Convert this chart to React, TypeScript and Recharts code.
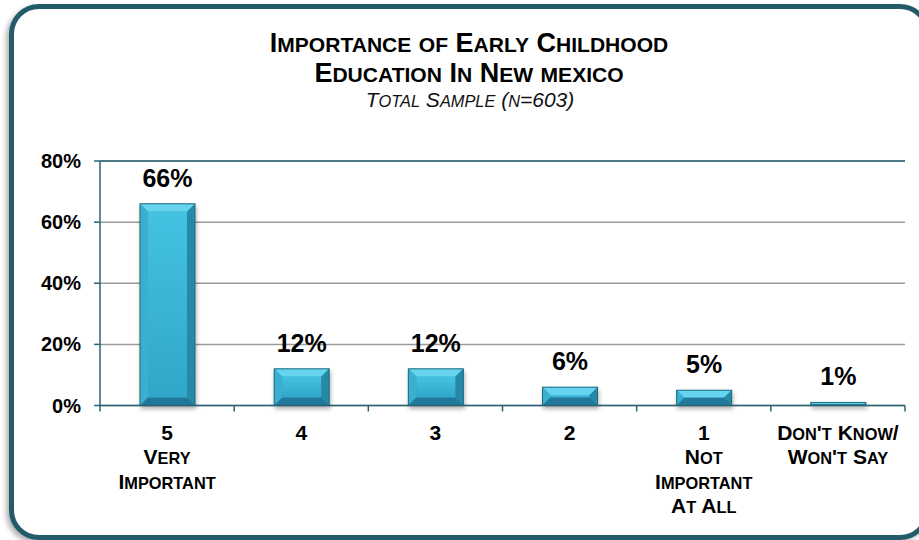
import React from 'react';
import { BarChart, Bar, XAxis, YAxis, CartesianGrid, ReferenceLine, LabelList } from 'recharts';

// chart data
const categories = ['5', '4', '3', '2', '1', "Don't Know/ Won't Say"];
const categoryLines = [
  ['5', 'Very', 'Important'],
  ['4'],
  ['3'],
  ['2'],
  ['1', 'Not', 'Important', 'At All'],
  ["Don't Know/", "Won't Say"],
];
const values = [66, 12, 12, 6, 5, 1];
const yTicks = [0, 20, 40, 60, 80];
const titleLines = ['Importance of Early Childhood', 'Education In New mexico'];
const subtitle = 'Total Sample (n=603)';

const data = categories.map((name, i) => ({ name, value: values[i] }));

const W = 919;
const H = 540;
const PLOT_LEFT = 100;
const PLOT_RIGHT = 905;
const PLOT_TOP = 161;
const PLOT_BOTTOM = 405.5;
const FONT = '"Liberation Sans", Arial, Helvetica, sans-serif';
const TEAL = '#2a6375';
const FRAME = '#235b6b';
const SC = 0.78; // small caps ratio

// split text into runs of big / small-cap letters
function capsRuns(text: string) {
  const runs: { t: string; small: boolean }[] = [];
  for (const ch of text) {
    const small = ch >= 'a' && ch <= 'z';
    const t = small ? ch.toUpperCase() : ch;
    const last = runs[runs.length - 1];
    if (last && last.small === small) last.t += t;
    else runs.push({ t, small });
  }
  return runs;
}

function CapsTspans({ text, size }: { text: string; size: number }) {
  return (
    <>
      {capsRuns(text).map((r, i) => (
        <tspan key={i} fontSize={r.small ? size * SC : size}>
          {r.t}
        </tspan>
      ))}
    </>
  );
}

const halfBand = (PLOT_RIGHT - PLOT_LEFT) / categories.length / 2;

const CategoryTick = (props: any) => {
  const { x, y, payload } = props;
  const idx = categories.indexOf(payload.value);
  const lines = categoryLines[idx] || [];
  return (
    <g>
      <line x1={x - halfBand} x2={x - halfBand} y1={y} y2={y + 6} stroke={TEAL} strokeWidth={1.5} />
      {idx === categories.length - 1 && (
        <line x1={x + halfBand} x2={x + halfBand} y1={y} y2={y + 6} stroke={TEAL} strokeWidth={1.5} />
      )}
      {lines.map((ln, i) => (
        <text
          key={i}
          x={x}
          y={y + 34 + i * 24.5}
          textAnchor="middle"
          fontFamily={FONT}
          fontWeight="bold"
          fontSize={21}
          fill="#000"
        >
          <CapsTspans text={ln} size={21} />
        </text>
      ))}
    </g>
  );
};

const BevelBar = (props: any) => {
  const { x, y, width: w, height: h, index } = props;
  if (!h || h <= 0) return null;
  const b = Math.min(8, h / 2, w / 2);
  const id = `face-${index}`;
  return (
    <g style={{ filter: 'drop-shadow(1px 3px 2px rgba(0,0,0,0.3))' }}>
      <defs>
        <linearGradient id={id} x1="0" y1="0" x2="0" y2="1">
          <stop offset="0%" stopColor="#44c2e2" />
          <stop offset="100%" stopColor="#31a6c8" />
        </linearGradient>
      </defs>
      <rect x={x} y={y} width={w} height={h} fill="#2b93b3" />
      <polygon points={`${x},${y} ${x + w},${y} ${x + w - b},${y + b} ${x + b},${y + b}`} fill="#66d4ee" />
      <polygon points={`${x},${y} ${x + b},${y + b} ${x + b},${y + h - b} ${x},${y + h}`} fill="#3aafd0" />
      <polygon points={`${x + w},${y} ${x + w},${y + h} ${x + w - b},${y + h - b} ${x + w - b},${y + b}`} fill="#2789a8" />
      <polygon points={`${x},${y + h} ${x + b},${y + h - b} ${x + w - b},${y + h - b} ${x + w},${y + h}`} fill="#21789a" />
      <rect x={x + b} y={y + b} width={Math.max(0, w - 2 * b)} height={Math.max(0, h - 2 * b)} fill={`url(#${id})`} />
      <rect x={x} y={y} width={w} height={h} fill="none" stroke="#1d6a80" strokeWidth={1} />
    </g>
  );
};

export default function App() {
  return (
    <div
      style={{
        position: 'fixed',
        left: 0,
        top: 0,
        width: W,
        height: H,
        background: '#fff',
        overflow: 'hidden',
        fontFamily: FONT,
      }}
    >
      <div
        style={{
          position: 'absolute',
          left: 9,
          top: 4,
          width: 921,
          height: 536,
          boxSizing: 'border-box',
          border: `5px solid ${FRAME}`,
          borderRadius: 30,
          boxShadow: '-3px 3px 5px rgba(0,0,0,0.3)',
          background: '#fff',
        }}
      />
      <div style={{ position: 'absolute', left: 0, top: 0 }}>
        <BarChart
          width={W}
          height={H}
          data={data}
          margin={{ top: PLOT_TOP, right: W - PLOT_RIGHT, bottom: 0, left: 0 }}
        >
          <CartesianGrid yAxisId="left" vertical={false} stroke="#9a9a9a" strokeWidth={1.5} />
          <XAxis
            dataKey="name"
            height={H - PLOT_BOTTOM}
            axisLine={{ stroke: TEAL, strokeWidth: 1.5 }}
            tickLine={false}
            tickSize={0}
            tickMargin={0}
            interval={0}
            tick={<CategoryTick />}
          />
          <YAxis
            yAxisId="left"
            width={PLOT_LEFT}
            domain={[0, 80]}
            ticks={yTicks}
            tickFormatter={(v: number) => `${v}%`}
            axisLine={{ stroke: TEAL, strokeWidth: 1.5 }}
            tickLine={{ stroke: TEAL, strokeWidth: 1.5 }}
            tickSize={6}
            tickMargin={13}
            tick={{ fill: '#000', fontSize: 20, fontWeight: 'bold', fontFamily: FONT }}
          />
          <YAxis
            yAxisId="right"
            orientation="right"
            width={0}
            domain={[0, 80]}
            ticks={yTicks}
            tick={false}
            tickLine={false}
            axisLine={{ stroke: TEAL, strokeWidth: 1.5 }}
          />
          <ReferenceLine yAxisId="left" y={80} stroke={TEAL} strokeWidth={1.5} />
          <Bar
            yAxisId="left"
            dataKey="value"
            barSize={55}
            shape={<BevelBar />}
            isAnimationActive={false}
          >
            <LabelList
              dataKey="value"
              position="top"
              offset={17}
              formatter={(v: number) => `${v}%`}
              fill="#000"
              fontSize={25}
              fontWeight="bold"
              fontFamily={FONT}
            />
          </Bar>
        </BarChart>
      </div>
      <svg
        width={W}
        height={150}
        style={{ position: 'absolute', left: 0, top: 0, pointerEvents: 'none' }}
      >
        {titleLines.map((ln, i) => (
          <text
            key={i}
            x={469}
            y={52 + i * 30}
            textAnchor="middle"
            fontFamily={FONT}
            fontWeight="bold"
            fontSize={27}
            fill="#000"
          >
            <CapsTspans text={ln} size={27} />
          </text>
        ))}
        <text x={470} y={107} textAnchor="middle" fontFamily={FONT} fontStyle="italic" fontSize={21} fill="#111">
          <CapsTspans text={subtitle} size={21} />
        </text>
      </svg>
    </div>
  );
}
